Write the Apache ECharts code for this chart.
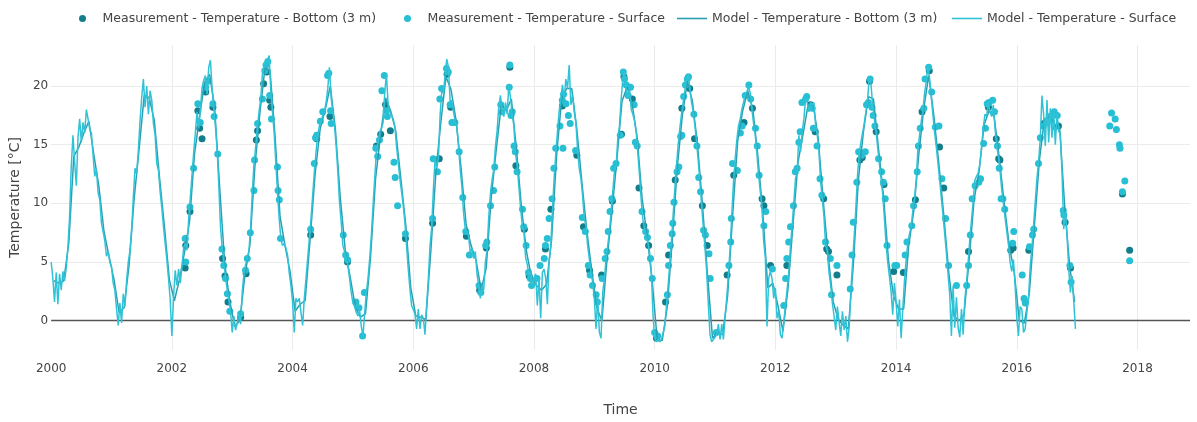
<!DOCTYPE html>
<html><head><meta charset="utf-8">
<script src="https://cdn.jsdelivr.net/npm/echarts@6/dist/echarts.min.js"></script>
<style>html,body{margin:0;padding:0;background:#fff}#c{width:1197px;height:422px}</style>
</head><body><div id="c"></div>
<script>
// ---- DATA ----
const seriesNames = [
  'Measurement - Temperature - Bottom (3 m)',
  'Measurement - Temperature - Surface',
  'Model - Temperature - Bottom (3 m)',
  'Model - Temperature - Surface'
];
const modelStartYear = 2000;
// Model surface temperature, 36 samples per year (2000..2016)
const modelSurface = [
  [5.0,3.6,1.6,4.1,1.4,4.0,2.6,4.2,3.4,4.5,6.3,8.9,13.2,15.8,13.5,11.5,15.6,17.2,15.2,16.9,16.0,18.0,17.2,16.3,16.0,14.1,12.3,12.9,10.9,10.3,8.3,7.6,6.8,5.5,5.9,5.0],
  [4.6,3.2,2.6,1.0,-0.4,1.5,-0.2,2.3,1.2,3.4,5.0,6.0,7.8,10.5,13.0,12.5,14.5,17.0,19.0,20.6,18.2,20.0,17.6,19.6,18.8,16.8,15.8,13.4,12.8,11.0,9.6,8.0,6.6,5.2,3.6,1.8],
  [-1.3,2.0,4.3,3.0,4.4,3.2,4.6,6.2,6.6,6.0,8.6,10.5,12.4,14.3,16.0,17.8,16.4,18.0,19.8,20.5,20.9,19.3,21.6,22.2,19.8,18.2,16.5,14.6,11.5,8.0,6.2,4.8,3.8,2.6,1.8,0.8],
  [-1.0,0.4,-0.8,-0.2,0.6,-0.3,2.5,4.0,4.8,5.3,6.0,8.0,11.0,13.4,14.8,16.5,17.8,18.9,21.0,21.8,22.0,22.2,22.6,19.6,17.8,16.0,13.5,11.0,8.7,7.0,6.4,6.6,6.2,5.6,4.1,3.0],
  [1.6,-1.0,1.9,1.6,1.9,0.7,-0.4,1.9,3.6,5.3,7.0,8.7,10.7,12.7,14.4,15.8,16.6,16.9,17.5,17.8,18.6,19.8,21.6,19.0,17.8,16.6,14.9,12.7,10.1,8.4,6.4,5.9,5.3,4.7,3.6,2.4],
  [1.5,1.2,0.7,0.4,0.9,-0.5,-1.3,0.6,2.4,3.6,5.3,7.3,9.8,12.1,14.4,15.2,16.1,16.4,16.9,19.5,21.0,18.4,17.8,17.5,17.2,16.6,14.9,13.5,12.1,11.0,9.8,8.4,6.4,4.4,2.7,1.3],
  [1.3,0.6,-0.7,1.0,-0.7,0.5,0.2,-1.2,1.4,3.6,6.4,8.0,11.2,13.8,13.0,13.8,17.5,19.6,19.4,21.0,22.3,21.6,18.6,18.8,17.8,17.0,16.6,14.8,12.9,11.4,9.2,7.8,7.6,7.2,5.8,6.2],
  [5.3,5.9,4.0,3.0,1.9,3.0,2.6,5.0,6.0,8.8,10.8,12.0,12.9,14.8,16.2,18.2,19.2,17.8,17.4,18.6,17.6,20.1,19.0,17.6,16.6,14.2,13.2,11.4,9.6,8.2,7.6,5.4,4.8,3.9,4.2,3.1],
  [3.6,4.0,1.3,3.6,0.2,4.1,4.4,3.6,1.4,5.0,6.4,9.3,12.1,14.2,16.1,17.8,18.9,20.1,18.9,20.6,19.8,21.8,18.4,19.2,17.8,16.9,14.6,13.0,12.1,10.7,8.7,8.1,6.4,5.3,4.1,3.3],
  [1.9,-0.7,2.0,-1.0,-1.5,2.4,3.6,5.3,6.4,7.6,9.3,11.0,12.7,13.2,15.5,16.6,18.9,20.6,21.2,19.6,18.9,19.8,18.0,17.6,17.0,16.0,14.2,12.3,10.2,8.6,7.8,7.2,6.6,5.8,4.2,0.5],
  [-1.5,-1.8,-1.6,-1.8,-1.6,-1.7,-0.5,1.2,3.0,4.8,6.8,9.0,11.2,13.2,15.0,16.4,17.6,18.6,19.6,20.6,21.0,19.8,18.6,17.8,16.6,15.2,13.6,11.8,9.8,8.0,6.2,4.2,1.4,-1.2,-1.8,-1.6],
  [-1.7,-1.2,-0.3,-1.6,-0.3,-1.6,0.3,2.0,4.0,6.2,9.0,11.8,13.8,15.4,16.6,17.2,18.0,18.6,19.2,19.5,20.0,19.4,18.0,16.8,15.8,14.2,12.4,11.0,9.6,6.8,5.4,-0.5,3.6,4.2,3.6,1.9],
  [2.8,0.2,0.8,-1.2,-1.5,-0.1,1.3,2.7,4.1,6.4,8.1,10.1,12.1,12.7,15.8,14.4,16.1,17.2,18.9,18.6,17.8,18.6,18.4,18.6,16.6,15.8,14.4,11.8,10.4,8.8,6.4,5.9,4.1,3.0,1.5,0.4],
  [-0.8,1.2,-0.1,-1.3,0.8,-0.8,0.4,-1.8,-0.6,2.5,4.8,7.2,9.6,12.4,14.2,15.2,16.0,16.8,17.8,18.8,20.8,20.2,18.4,17.2,16.2,14.8,13.4,12.2,10.8,8.8,6.6,5.0,3.8,2.5,0.5,3.2],
  [1.6,-0.5,1.8,-1.5,1.0,3.4,5.2,6.6,7.4,8.0,9.4,10.4,12.0,14.6,15.8,17.0,17.9,19.4,20.4,21.8,20.6,19.0,17.5,16.0,14.8,13.4,12.0,10.4,9.0,7.4,5.8,4.0,2.2,-1.3,3.0,-0.6],
  [2.0,-0.6,-1.4,1.0,-1.2,1.8,3.2,5.0,7.0,8.6,10.2,12.0,12.0,12.6,13.4,14.8,16.4,17.6,17.4,18.6,17.8,17.4,18.4,16.4,15.0,14.0,12.8,11.2,10.0,8.8,7.6,6.5,5.0,4.2,5.2,3.0],
  [0.2,-1.3,1.2,1.0,-1.0,-0.7,0.7,1.9,4.6,6.2,8.1,10.1,12.1,13.5,15.5,19.2,17.6,14.9,18.8,15.2,18.1,15.6,18.0,15.0,17.7,16.2,15.8,12.5,7.8,9.3,7.2,4.4,2.4,3.8,1.6,-0.7]
];
// Model bottom (3 m) temperature, 12 monthly values per year (2000..2016)
const modelBottom = [
  [3.4,3.2,3.4,6.6,14.0,14.8,16.0,17.0,14.1,11.4,7.6,5.5],
  [3.5,0.7,1.1,4.8,10.4,14.7,19.2,19.0,17.1,12.4,8.1,3.5],
  [1.7,3.5,5.8,8.4,14.2,17.4,20.3,21.0,18.2,11.4,4.9,1.7],
  [-0.5,0.0,3.8,6.4,13.1,17.7,21.5,21.4,15.8,8.9,6.4,4.2],
  [0.8,1.4,1.7,7.0,12.6,16.4,18.0,20.0,16.4,10.4,5.9,3.6],
  [1.1,0.3,0.6,5.4,12.1,15.9,19.0,17.9,16.2,12.2,8.2,2.8],
  [0.4,0.3,0.1,6.0,12.7,17.0,20.8,19.7,17.1,13.0,8.2,6.4],
  [5.1,2.6,4.5,10.5,14.6,18.4,17.9,18.9,14.7,9.7,5.9,3.7],
  [3.0,2.6,3.1,6.9,14.1,18.9,19.8,19.8,16.4,11.9,7.7,4.2],
  [1.1,0.0,5.1,9.3,13.8,18.7,19.9,18.5,15.7,10.4,7.2,3.4],
  [-1.6,-1.7,1.2,6.9,13.1,17.5,20.4,18.7,15.1,9.9,3.9,-1.5],
  [-1.0,-1.2,2.1,9.0,15.3,17.9,19.6,18.1,14.1,9.1,2.8,3.2],
  [1.3,-0.9,2.7,8.2,13.5,15.9,18.4,18.5,15.6,10.3,5.5,1.6],
  [0.1,-0.4,-0.7,4.8,12.0,16.1,19.1,18.9,14.7,10.6,5.1,2.1],
  [1.0,1.0,6.4,9.3,14.1,18.1,20.9,17.5,13.4,8.9,4.0,0.4],
  [0.0,0.5,5.1,10.3,12.7,16.7,17.9,17.4,13.9,10.0,6.4,4.1],
  [0.0,-0.2,2.4,8.1,13.7,17.2,17.4,16.2,16.6,9.9,4.7,1.6]
];
// Measurements: [decimal year, temperature]
const measSurface = [
  [2002.22,7.0],[2002.23,5.0],[2002.30,9.7],[2002.36,13.0],[2002.43,18.5],[2002.47,16.9],[2002.56,19.9],[2002.60,20.4],[2002.68,18.5],[2002.70,17.4],[2002.76,14.2],[2002.83,6.1],[2002.86,4.7],[2002.89,3.6],[2002.92,2.3],[2002.96,0.8],
  [2003.14,0.6],[2003.22,4.3],[2003.25,5.3],[2003.30,7.5],[2003.36,11.1],[2003.37,13.7],[2003.42,16.8],[2003.50,18.9],[2003.54,21.3],[2003.56,21.8],[2003.59,22.1],[2003.62,19.2],[2003.65,17.2],[2003.75,13.1],[2003.76,11.1],[2003.78,10.3],[2003.80,7.0],
  [2004.30,7.8],[2004.36,13.4],[2004.38,15.6],[2004.40,15.8],[2004.46,17.0],[2004.50,17.8],[2004.58,20.9],[2004.60,21.1],[2004.63,17.9],[2004.64,16.8],[2004.84,7.3],[2004.88,5.6],[2004.91,5.2],
  [2005.05,1.6],[2005.10,1.1],[2005.16,-1.3],[2005.19,2.4],[2005.38,14.7],[2005.41,14.0],[2005.44,15.4],[2005.48,19.6],[2005.52,20.9],[2005.55,17.9],[2005.57,17.4],[2005.68,13.5],[2005.70,12.2],[2005.74,9.8],[2005.87,7.4],
  [2006.32,8.7],[2006.33,13.8],[2006.40,12.7],[2006.44,18.9],[2006.47,19.8],[2006.55,21.5],[2006.58,21.2],[2006.61,18.4],[2006.64,16.9],[2006.69,16.9],[2006.76,14.4],[2006.82,10.5],[2006.87,7.6],[2006.93,5.6],
  [2007.09,3.0],[2007.12,2.4],[2007.20,6.4],[2007.22,6.7],[2007.28,9.8],[2007.33,11.1],[2007.35,13.1],[2007.45,18.4],[2007.47,17.8],[2007.59,19.9],[2007.60,21.8],[2007.62,17.5],[2007.64,17.8],[2007.67,14.9],[2007.69,14.4],[2007.72,12.7],[2007.81,9.5],[2007.83,8.0],[2007.87,6.4],[2007.91,4.1],[2007.94,3.6],[2007.96,3.0],
  [2008.05,3.6],[2008.10,4.7],[2008.17,5.3],[2008.19,6.4],[2008.22,7.0],[2008.25,8.7],[2008.30,10.4],[2008.33,13.0],[2008.36,14.7],[2008.43,16.6],[2008.47,18.8],[2008.48,14.7],[2008.49,19.3],[2008.53,18.5],[2008.57,17.5],[2008.60,16.8],[2008.69,14.5],[2008.80,8.8],[2008.85,7.6],[2008.90,4.7],[2008.93,3.9],[2008.97,3.0],
  [2009.03,2.2],[2009.05,1.6],[2009.13,3.6],[2009.18,5.3],[2009.21,5.9],[2009.23,7.6],[2009.26,9.3],[2009.29,10.4],[2009.32,13.0],[2009.36,13.4],[2009.43,15.8],[2009.48,21.2],[2009.50,20.6],[2009.53,20.1],[2009.56,19.2],[2009.60,19.9],[2009.66,18.4],[2009.68,15.2],[2009.71,14.9],[2009.79,9.3],[2009.85,7.6],[2009.88,7.1],[2009.93,5.3],[2009.96,3.6],
  [2010.00,-1.0],[2010.05,-1.3],[2010.21,2.2],[2010.23,4.7],[2010.26,6.4],[2010.29,7.4],[2010.30,8.3],[2010.32,10.1],[2010.37,12.7],[2010.40,13.1],[2010.43,15.7],[2010.45,15.8],[2010.48,19.1],[2010.51,20.1],[2010.54,20.6],[2010.56,20.8],[2010.65,17.6],[2010.70,14.9],[2010.73,12.2],[2010.76,11.0],[2010.81,7.7],[2010.84,7.3],[2010.90,5.7],[2010.92,3.6],
  [2011.02,-1.0],[2011.23,4.7],[2011.26,6.7],[2011.27,8.7],[2011.29,13.4],[2011.37,12.8],[2011.42,16.0],[2011.45,16.6],[2011.50,19.2],[2011.56,20.1],[2011.59,18.9],[2011.67,16.4],[2011.70,14.9],[2011.73,12.4],[2011.81,8.1],[2011.84,9.3],[2011.95,4.4],
  [2012.14,1.3],[2012.17,3.6],[2012.19,5.3],[2012.22,6.7],[2012.25,8.0],[2012.30,9.8],[2012.33,12.7],[2012.36,13.0],[2012.39,15.2],[2012.41,16.1],[2012.44,18.6],[2012.50,18.9],[2012.52,19.1],[2012.61,18.1],[2012.63,16.4],[2012.69,14.9],[2012.74,12.1],[2012.77,10.7],[2012.83,6.7],[2012.91,5.3],[2012.93,2.2],
  [2013.02,4.7],[2013.24,2.7],[2013.27,5.6],[2013.29,8.4],[2013.35,11.8],[2013.38,14.4],[2013.43,14.1],[2013.49,14.4],[2013.51,18.4],[2013.54,18.6],[2013.57,20.6],[2013.60,18.2],[2013.62,17.5],[2013.65,16.6],[2013.71,13.8],[2013.76,12.7],[2013.79,11.8],[2013.82,10.4],[2013.85,6.4],[2013.98,4.7],
  [2014.01,4.7],[2014.15,5.6],[2014.18,6.7],[2014.26,8.1],[2014.29,9.8],[2014.35,12.7],[2014.37,14.9],[2014.40,16.4],[2014.46,18.1],[2014.48,20.6],[2014.54,21.6],[2014.59,19.5],[2014.65,16.5],[2014.71,16.6],[2014.76,12.1],[2014.82,8.7],[2014.87,4.7],
  [2015.00,3.0],[2015.17,3.0],[2015.20,4.7],[2015.23,7.3],[2015.26,10.4],[2015.31,11.5],[2015.37,11.8],[2015.40,12.1],[2015.45,15.1],[2015.48,16.4],[2015.51,18.5],[2015.54,18.6],[2015.60,18.8],[2015.63,17.8],[2015.68,14.9],[2015.71,13.0],[2015.74,10.4],[2015.77,10.4],[2015.80,9.5],[2015.93,6.6],[2015.95,7.6],
  [2016.09,3.9],[2016.12,1.9],[2016.14,1.5],[2016.21,6.3],[2016.26,7.3],[2016.28,7.8],[2016.36,13.4],[2016.39,15.6],[2016.44,16.6],[2016.50,16.9],[2016.55,17.4],[2016.62,17.8],[2016.67,17.5],[2016.77,9.4],[2016.78,9.0],[2016.88,4.7],[2016.90,3.3],
  [2017.54,16.6],[2017.57,17.7],[2017.63,17.2],[2017.65,16.3],[2017.70,15.0],[2017.71,14.7],[2017.79,11.9],[2017.75,11.0],[2017.87,5.1]
];
const measBottom = [
  [2002.23,6.4],[2002.22,4.5],[2002.30,9.3],[2002.43,17.9],[2002.46,16.4],[2002.50,15.5],[2002.56,19.5],[2002.68,18.2],[2002.84,5.3],[2002.88,3.8],[2002.93,1.6],
  [2003.14,0.3],[2003.23,4.0],[2003.40,15.4],[2003.42,16.2],[2003.52,20.2],[2003.57,21.2],[2003.62,18.8],[2003.64,18.2],
  [2004.30,7.3],[2004.40,15.5],[2004.62,17.4],[2004.91,5.0],
  [2005.39,14.9],[2005.46,15.9],[2005.54,18.4],[2005.62,16.2],[2005.87,7.0],
  [2006.32,8.3],[2006.43,13.8],[2006.56,21.0],[2006.62,18.2],[2006.88,7.2],
  [2007.10,2.6],[2007.21,6.2],[2007.60,21.6],[2007.70,13.2],[2007.84,7.8],[2007.92,3.8],
  [2008.19,6.1],[2008.28,9.5],[2008.47,18.3],[2008.71,14.1],[2008.82,8.0],[2008.92,4.3],
  [2009.12,3.9],[2009.30,10.2],[2009.45,15.9],[2009.49,20.8],[2009.63,18.9],[2009.74,11.3],[2009.82,8.1],[2009.90,6.4],
  [2010.03,-1.5],[2010.18,1.6],[2010.23,5.6],[2010.34,12.0],[2010.45,18.1],[2010.58,19.8],[2010.66,15.5],[2010.79,9.8],[2010.87,6.4],
  [2011.20,3.9],[2011.31,12.4],[2011.48,16.9],[2011.62,18.1],[2011.78,10.4],[2011.81,9.8],[2011.92,4.7],
  [2012.19,4.7],[2012.58,18.4],[2012.66,16.1],[2012.80,10.4],[2012.85,6.1],[2012.88,5.9],
  [2013.02,3.9],[2013.40,13.7],[2013.44,13.9],[2013.56,20.4],[2013.67,16.1],[2013.80,11.6],[2013.96,4.2],
  [2014.12,4.1],[2014.32,10.3],[2014.43,17.8],[2014.55,21.3],[2014.72,14.8],[2014.79,11.3],
  [2015.20,5.9],[2015.53,18.2],[2015.66,15.5],[2015.70,13.8],[2015.72,13.7],[2015.90,6.0],[2015.94,6.2],
  [2016.20,6.0],[2016.45,16.8],[2016.56,17.2],[2016.69,16.6],[2016.80,8.4],[2016.89,4.5],
  [2017.75,10.8],[2017.87,6.0]
];
const xTickYears = [2000,2002,2004,2006,2008,2010,2012,2014,2016,2018];
const yTickValues = [0,5,10,15,20];

// ---- BUILD ----
function buildModel(rows, perYear, offset) {
  const out = [];
  rows.forEach((row, i) => row.forEach((v, k) => out.push([modelStartYear + i + (k + offset) / perYear, v])));
  return out;
}
const surfaceLine = buildModel(modelSurface, 36, 0);
const bottomLine = buildModel(modelBottom, 12, 0.5);

const FONT = 'DejaVu Sans';
const TXT = '#444';
const colors = ['#137e8b', '#27bfd3', '#2a9fb1', '#30c3d7'];

const chart = echarts.init(document.getElementById('c'), null, {renderer: 'canvas'});
const legendBase = {
  orient: 'horizontal', top: 12, padding: 0, itemWidth: 30, itemHeight: 7,
  textStyle: {fontFamily: FONT, fontSize: 12.5, color: TXT},
  selectedMode: false
};
chart.setOption({
  animation: false,
  color: colors,
  textStyle: {fontFamily: FONT},
  grid: {left: 50, right: 7, top: 45, bottom: 72, containLabel: false},
  legend: [
    Object.assign({}, legendBase, {data: [{name: seriesNames[0], icon: 'circle'}], left: 79}),
    Object.assign({}, legendBase, {data: [{name: seriesNames[1], icon: 'circle'}], left: 404}),
    Object.assign({}, legendBase, {data: [{name: seriesNames[2], icon: 'rect'}], left: 677, itemHeight: 1.6, symbolKeepAspect: false, top: 12}),
    Object.assign({}, legendBase, {data: [{name: seriesNames[3], icon: 'rect'}], left: 952, itemHeight: 1.6, symbolKeepAspect: false, top: 12})
  ],
  xAxis: {
    type: 'value', min: 2000, max: 2018.87, interval: 2,
    name: 'Time', nameLocation: 'middle', nameGap: 53,
    nameTextStyle: {fontFamily: FONT, fontSize: 14, color: TXT},
    axisLine: {show: false}, axisTick: {show: false},
    axisLabel: {
      fontFamily: FONT, fontSize: 12, color: TXT, margin: 13,
      showMaxLabel: false,
      formatter: v => xTickYears.indexOf(Math.round(v)) >= 0 && Math.abs(v - Math.round(v)) < 1e-6 ? String(Math.round(v)) : ''
    },
    splitLine: {show: true, showMinLine: false, showMaxLine: false, lineStyle: {color: '#ebebeb', width: 1}}
  },
  yAxis: {
    type: 'value', min: -2.5, max: 23.5, splitNumber: 5,
    name: 'Temperature [°C]', nameLocation: 'middle', nameGap: 28,
    nameTextStyle: {fontFamily: FONT, fontSize: 14, color: TXT},
    axisLine: {show: false}, axisTick: {show: false},
    axisLabel: {
      fontFamily: FONT, fontSize: 12, color: TXT, margin: 3,
      showMinLabel: false, showMaxLabel: false,
      formatter: v => { const r = Math.round(v); return (Math.abs(v - r) < 1e-6 && yTickValues.indexOf(r) >= 0) ? String(r) : ''; }
    },
    splitLine: {show: true, showMinLine: false, showMaxLine: false, lineStyle: {color: '#ebebeb', width: 1}}
  },
  series: [
    {
      name: seriesNames[0], type: 'scatter', data: measBottom, symbol: 'circle', symbolSize: 7,
      itemStyle: {color: colors[0], opacity: 1}, z: 3,
      markLine: {silent: true, symbol: 'none', z: 1, animation: false,
        label: {show: false}, lineStyle: {color: '#555', width: 1.4, type: 'solid'},
        data: [{yAxis: 0}]}
    },
    {
      name: seriesNames[1], type: 'scatter', data: measSurface, symbol: 'circle', symbolSize: 7,
      itemStyle: {color: colors[1], opacity: 1}, z: 3
    },
    {
      name: seriesNames[2], type: 'line', data: bottomLine, symbol: 'none', showSymbol: false,
      itemStyle: {color: colors[2]},
      lineStyle: {color: colors[2], width: 1.5}, z: 4
    },
    {
      name: seriesNames[3], type: 'line', data: surfaceLine, symbol: 'none', showSymbol: false,
      itemStyle: {color: colors[3]},
      lineStyle: {color: colors[3], width: 1.5}, z: 5
    }
  ]
});
</script>
</body></html>
